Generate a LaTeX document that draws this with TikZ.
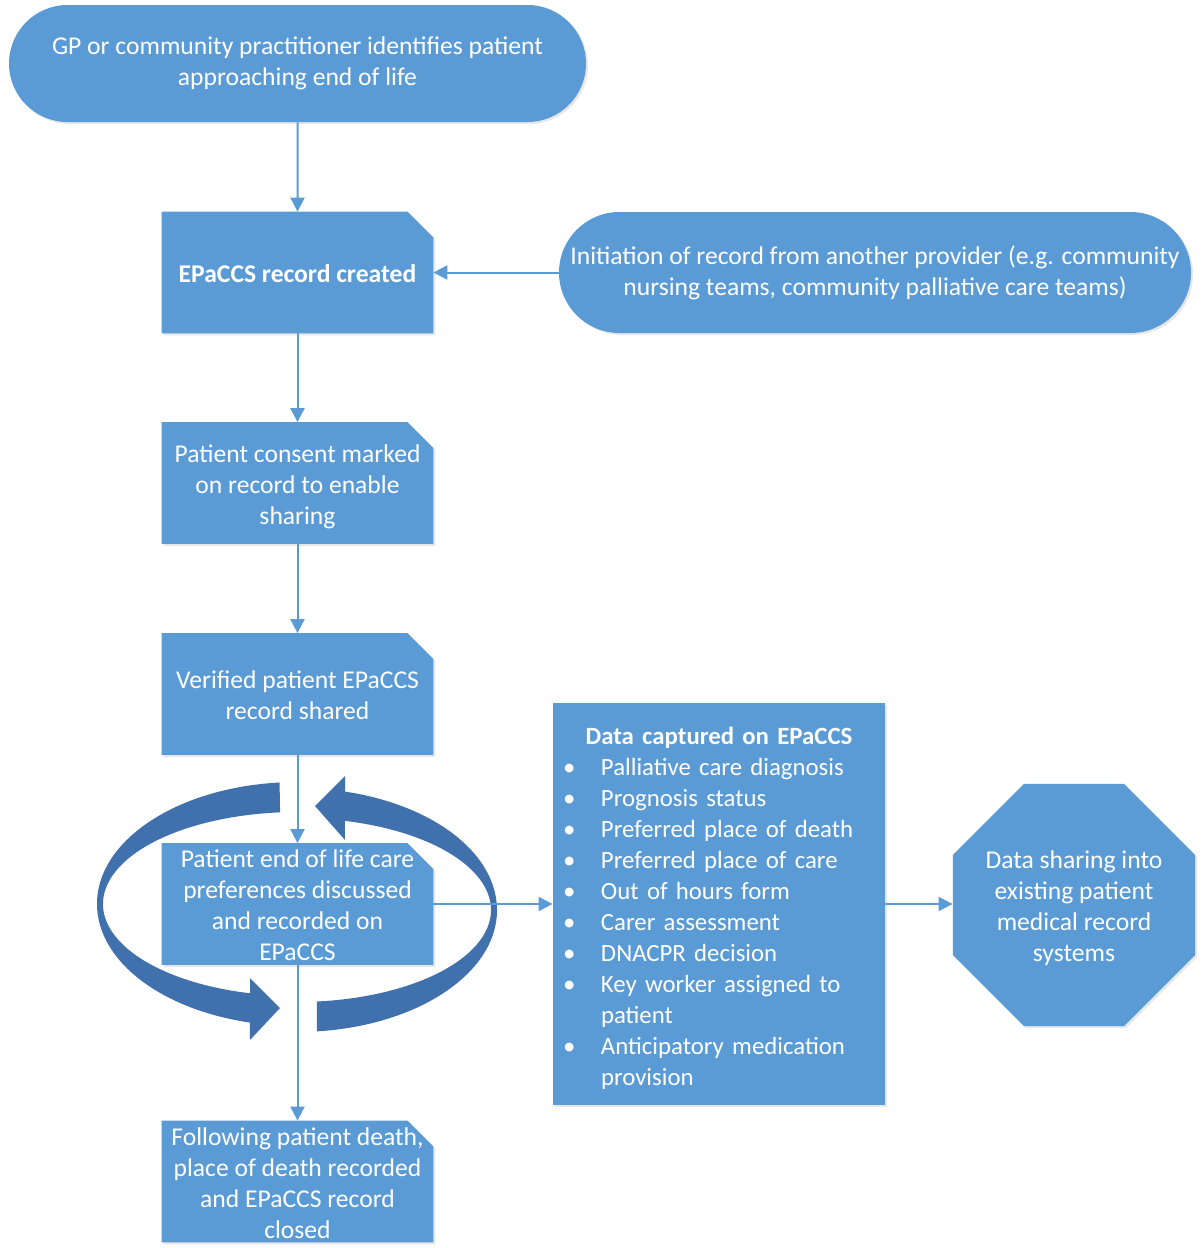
\documentclass[tikz,border=0pt]{standalone}
\usepackage{fontspec}
\setmainfont{Carlito}
\usetikzlibrary{arrows.meta,shapes.misc,shapes.geometric,shadows,calc,backgrounds}

\definecolor{boxblue}{RGB}{91,155,213}
\definecolor{ringblue}{RGB}{65,113,172}

% text centred on its shape that takes no room, so the shape keeps its size
\newcommand{\steplines}[1]{\raisebox{-5pt}[0pt][0pt]{\makebox[0pt]{\begin{tabular}{@{}c@{}}#1\end{tabular}}}}
\newcommand{\dataitem}[1]{\makebox[19pt][l]{\textbullet}#1}
\newcommand{\datagap}{\hspace*{19pt}}
% blue card with its top right corner cut off, behind a step node
\newcommand{\stepcard}[1]{%
  \fill[stepfill] (#1.south west) |- ($(#1.north east)+(-13pt,0)$)
    -- ($(#1.north east)+(0,-13pt)$) -- (#1.south east) -- cycle;}

\tikzset{
  shade/.style={drop shadow={shadow xshift=1pt, shadow yshift=-1pt, opacity=0.2}},
  flow/.style={fill=boxblue, text=white, font=\fontsize{12.8}{15.5}\selectfont,
    align=center, inner sep=2pt, shade},
  startbox/.style={flow, rounded rectangle, minimum height=58.5pt},
  stepbox/.style={rectangle, text=white, font=\fontsize{12.8}{15.5}\selectfont,
    inner sep=2pt, minimum width=135.5pt, minimum height=60.5pt},
  stepfill/.style={fill=boxblue, shade},
  link/.style={draw=boxblue, line width=1pt, -{Triangle[length=7pt,width=7pt]}},
  ring/.style={fill=ringblue, draw=none}
}

\begin{document}
\begin{tikzpicture}[x=0.5pt, y=-0.5pt]
  \useasboundingbox (0,0) rectangle (1200,1248);

  \node[startbox, minimum width=292.5pt] (gp) at (297.5,63.5)
    {GP or community practitioner identifies patient\\approaching end of life};
  \node[stepbox] (created) at (297.5,272.5) {\steplines{\textbf{EPaCCS record created}}};
  \node[startbox, minimum width=320pt, minimum height=60.5pt] (other) at (875,272.5)
    {Initiation of record from another provider (e.g. community\\nursing teams, community palliative care teams)};
  \node[stepbox] (consent) at (297.5,483)
    {\steplines{Patient consent marked\\on record to enable\\sharing}};
  \node[stepbox] (verified) at (297.5,694)
    {\steplines{Verified patient EPaCCS\\record shared}};
  \node[stepbox] (prefs) at (297.5,904)
    {\steplines{Patient end of life care\\preferences discussed\\and recorded on\\EPaCCS}};
  \node[stepbox] (closed) at (297.5,1181.5)
    {\steplines{Following patient death,\\place of death recorded\\and EPaCCS record\\closed}};

  \node[flow, rectangle, minimum width=166pt, minimum height=201pt,
    font=\fontsize{12.4}{15.5}\selectfont,
    text width=156pt, align=left] (data) at (719,904) {%
    \rule{0pt}{12.7pt}\makebox[156pt]{\textbf{Data captured on EPaCCS}}\\
    \dataitem{Palliative care diagnosis}\\
    \dataitem{Prognosis status}\\
    \dataitem{Preferred place of death}\\
    \dataitem{Preferred place of care}\\
    \dataitem{Out of hours form}\\
    \dataitem{Carer assessment}\\
    \dataitem{DNACPR decision}\\
    \dataitem{Key worker assigned to}\\
    \datagap patient\\
    \dataitem{Anticipatory medication}\\
    \datagap provision};

  \node[flow, regular polygon, regular polygon sides=8, minimum size=131pt,
    inner sep=0pt] (share) at (1074,905)
    {\steplines{Data sharing into\\existing patient\\medical record\\systems}};

  \begin{scope}[on background layer]
    % loop arrows round the preferences step
    \coordinate (lc) at (297,904);
    \coordinate (rc) at (297,910);
    \fill[ring] ($(lc)+(265:200 and 122)$)
      arc[start angle=265, end angle=103.6, x radius=200, y radius=122]
      -- (250,1040) -- (280,1008) -- (250,978)
      -- ($(lc)+(104:194 and 92)$)
      arc[start angle=104, end angle=265, x radius=194, y radius=92] -- cycle;
    \fill[ring] ($(rc)+(84.3:200 and 122)$)
      arc[start angle=84.3, end angle=-76.1, x radius=200, y radius=122]
      -- (345,776) -- (315,806) -- (345,840)
      -- ($(rc)+(-75.7:194 and 92)$)
      arc[start angle=-75.7, end angle=84.1, x radius=194, y radius=92] -- cycle;
    \stepcard{created}
    \stepcard{consent}
    \stepcard{verified}
    \stepcard{prefs}
    \stepcard{closed}
  \end{scope}

  % connectors
  \draw[link] (gp) -- (created);
  \draw[link] (other) -- (created);
  \draw[link] (created) -- (consent);
  \draw[link] (consent) -- (verified);
  \draw[link] (verified) -- (prefs);
  \draw[link] (prefs) -- (closed);
  \draw[link] (prefs.east) -- (data.west);
  \draw[link] (data.east) -- (data.east -| share.west);
\end{tikzpicture}
\end{document}
